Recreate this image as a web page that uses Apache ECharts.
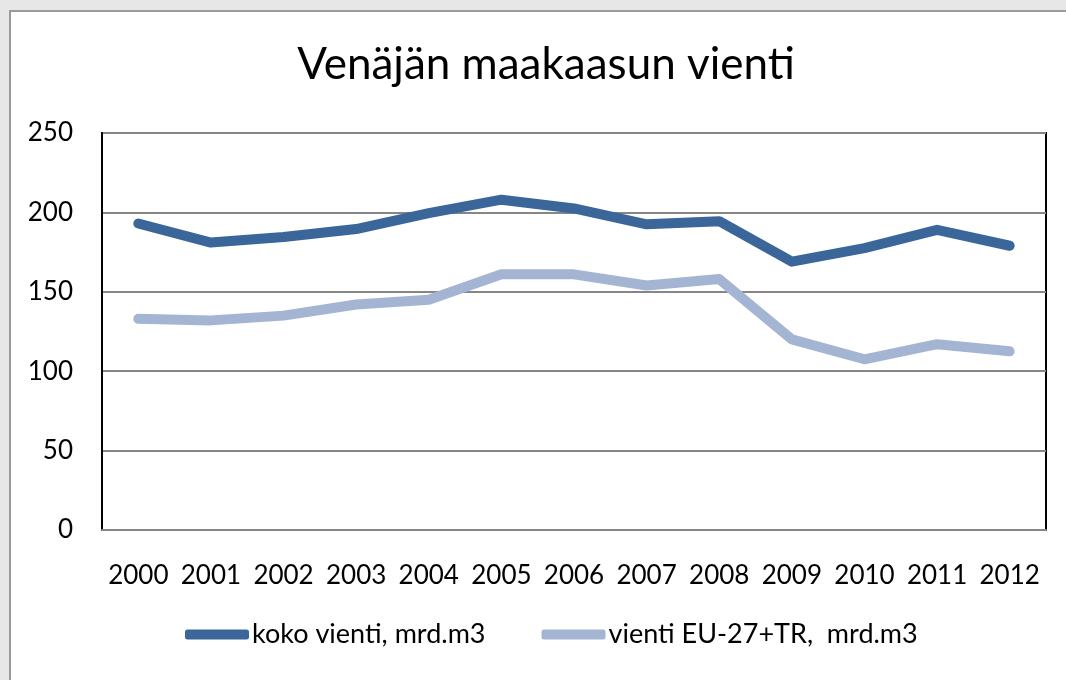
<!DOCTYPE html>
<html>
<head>
<meta charset="utf-8">
<script src="https://cdn.jsdelivr.net/npm/echarts@6/dist/echarts.min.js"></script>
<style>
  html, body { margin: 0; padding: 0; background: #e6e7e6; }
  #chart { width: 1066px; height: 680px; }
</style>
</head>
<body>
<div id="chart"></div>
<script>
const years = ['2000', '2001', '2002', '2003', '2004', '2005', '2006', '2007', '2008', '2009', '2010', '2011', '2012']
const kokoVienti = [193, 181, 184.5, 189.5, 199.5, 208, 202.5, 192.5, 194.5, 169, 177.5, 189, 179]
const vientiEU = [133, 132, 135, 142, 145, 161, 161, 154, 158, 120, 107.5, 117, 112.5]
const yTicks = [0, 50, 100, 150, 200, 250]

const chart = echarts.init(document.getElementById('chart'))
const font = 'Lato, "Open Sans", sans-serif'
const option = {
  backgroundColor: '#e6e7e6',
  animation: false,
  graphic: [
    {
      type: 'rect',
      z: -10,
      shape: { x: 10, y: 11, width: 1100, height: 700 },
      style: { fill: '#ffffff', stroke: '#9a9a9a', lineWidth: 2 }
    }
  ],
  title: {
    text: 'Venäjän maakaasun vienti',
    left: 541,
    top: 38,
    textAlign: 'center',
    textStyle: {
      fontFamily: font,
      fontSize: 44,
      fontWeight: 'normal',
      color: '#000'
    }
  },
  legend: {
    bottom: 27,
    left: 180,
    icon: 'roundRect',
    itemWidth: 64,
    itemHeight: 10,
    itemGap: 56,
    textStyle: {
      fontFamily: font,
      fontSize: 27,
      color: '#000',
      padding: [0, 0, 0, -2]
    },
    data: ['koko vienti, mrd.m3', 'vienti EU-27+TR,  mrd.m3']
  },
  grid: {
    left: 102,
    right: 20,
    top: 133,
    bottom: 150,
    show: true,
    borderColor: '#000',
    borderWidth: 2,
    backgroundColor: 'transparent'
  },
  xAxis: {
    type: 'category',
    data: years,
    boundaryGap: true,
    axisLine: { lineStyle: { color: '#868686', width: 2 } },
    axisTick: { inside: true, length: 8, interval: 0, lineStyle: { color: '#868686', width: 2 } },
    axisLabel: {
      interval: 0,
      fontFamily: font,
      fontSize: 26,
      color: '#000',
      margin: 33
    }
  },
  yAxis: {
    type: 'value',
    min: yTicks[0],
    max: yTicks[yTicks.length - 1],
    interval: 50,
    axisLine: { show: true, lineStyle: { color: '#000', width: 2 } },
    axisTick: { show: false },
    splitLine: { lineStyle: { color: '#868686', width: 2 } },
    axisLabel: {
      fontFamily: font,
      fontSize: 26,
      color: '#000',
      margin: 29
    }
  },
  series: [
    {
      name: 'koko vienti, mrd.m3',
      type: 'line',
      data: kokoVienti,
      symbol: 'none',
      color: '#3a6699',
      lineStyle: { width: 10, cap: 'round', join: 'round' }
    },
    {
      name: 'vienti EU-27+TR,  mrd.m3',
      type: 'line',
      data: vientiEU,
      symbol: 'none',
      color: '#a4b5d3',
      lineStyle: { width: 10, cap: 'round', join: 'round' }
    }
  ]
}
chart.setOption(option)
</script>
</body>
</html>
